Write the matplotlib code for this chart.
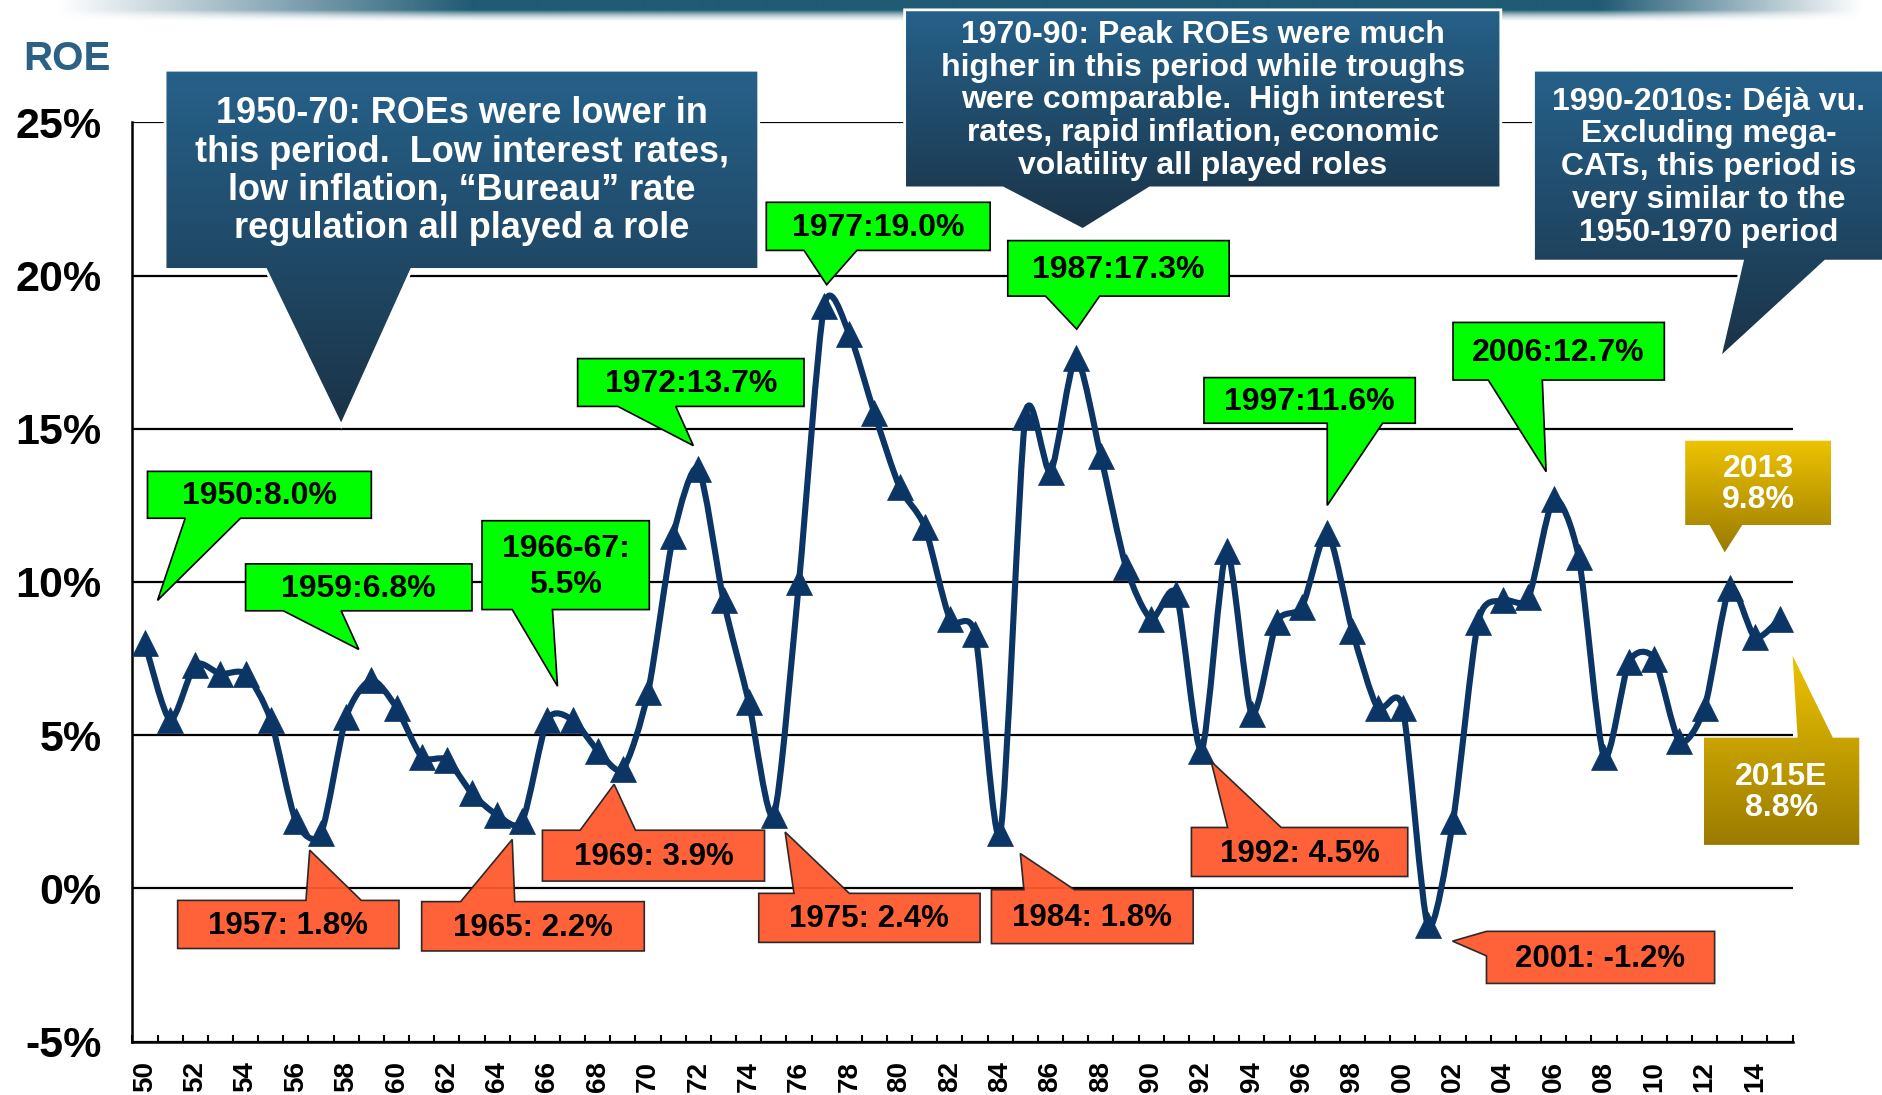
import matplotlib.pyplot as plt
import numpy as np
from matplotlib.path import Path
from matplotlib.patches import PathPatch, Polygon
from matplotlib.colors import to_rgb

plt.rcParams['font.family'] = ['Liberation Sans', 'DejaVu Sans']
plt.rcParams['font.weight'] = 'bold'

# P&C industry ROE by year (2015 is an estimate)
years = list(range(1950, 2016))
roe = [8.0, 5.5, 7.3, 7.0, 7.0, 5.5, 2.2, 1.8, 5.6, 6.8,
       5.9, 4.3, 4.2, 3.1, 2.4, 2.2, 5.5, 5.5, 4.5, 3.9,
       6.4, 11.5, 13.7, 9.4, 6.1, 2.4, 10.0, 19.0, 18.1, 15.5,
       13.1, 11.8, 8.8, 8.3, 1.8, 15.4, 13.6, 17.3, 14.1, 10.5,
       8.8, 9.6, 4.5, 11.0, 5.7, 8.7, 9.2, 11.6, 8.4, 5.9,
       5.9, -1.2, 2.2, 8.7, 9.4, 9.5, 12.7, 10.8, 4.3, 7.4,
       7.5, 4.8, 5.9, 9.8, 8.2, 8.8]
label_years = list(range(1950, 2015, 2))
year_labels = [f"{y % 100:02d}" for y in label_years]
y_ticks = [-5, 0, 5, 10, 15, 20, 25]
y_labels = [f"{v}%" for v in y_ticks]

LINE = '#0B3565'
GREEN = '#00FF00'
RED = '#FF5A2E'
BLUE_GRAD = ('#26618A', '#1A3347')
GOLD_GRAD = ('#EEC300', '#9A7B00')

# callouts: text, box (x0, x1, y0, y1), pointer side, base, tip
peaks = [
    ("1950:8.0%", (1950.1, 1959.0, 12.08, 13.61), 'bottom', (1951.6, 1953.8), (1950.5, 9.4)),
    ("1959:6.8%", (1954.0, 1963.0, 9.06, 10.59), 'bottom', (1955.5, 1957.8), (1958.5, 7.8)),
    ("1966-67:\n5.5%", (1963.4, 1970.05, 9.1, 12.0), 'bottom', (1964.6, 1966.2), (1966.4, 6.6)),
    ("1972:13.7%", (1967.2, 1976.2, 15.73, 17.29), 'bottom', (1968.8, 1971.1), (1971.8, 14.45)),
    ("1977:19.0%", (1974.7, 1983.6, 20.82, 22.39), 'bottom', (1976.2, 1978.3), (1977.1, 19.7)),
    ("1987:17.3%", (1984.3, 1993.1, 19.33, 21.14), 'bottom', (1985.8, 1987.95), (1987.04, 18.25)),
    ("1997:11.6%", (1992.1, 2000.5, 15.18, 16.67), 'bottom', (1997.0, 1999.2), (1997.0, 12.5)),
    ("2006:12.7%", (2002.0, 2010.4, 16.59, 18.47), 'bottom', (2003.4, 2005.55), (2005.7, 13.6)),
]
troughs = [
    ("1957: 1.8%", (1951.3, 1960.1, -1.96, -0.39), 'top', (1956.4, 1958.6), (1956.55, 1.25)),
    ("1965: 2.2%", (1961.0, 1969.85, -2.04, -0.43), 'top', (1962.55, 1964.7), (1964.6, 1.6)),
    ("1969: 3.9%", (1965.8, 1974.63, 0.24, 1.9), 'top', (1967.3, 1969.5), (1968.65, 3.4)),
    ("1975: 2.4%", (1974.4, 1983.2, -1.76, -0.16), 'top', (1975.8, 1978.0), (1975.45, 1.84)),
    ("1984: 1.8%", (1983.65, 1991.67, -1.8, -0.04), 'top', (1984.94, 1986.95), (1984.8, 1.14)),
    ("1992: 4.5%", (1991.6, 2000.2, 0.39, 1.99), 'top', (1993.04, 1995.17), (1992.38, 4.15)),
    ("2001: -1.2%", (2003.33, 2012.4, -3.1, -1.4), 'left', (-2.2, -1.4), (2001.98, -1.72)),
]
notes = [
    ("1950-70: ROEs were lower in\nthis period.  Low interest rates,\nlow inflation, \u201cBureau\u201d rate\nregulation all played a role",
     (1950.8, 1974.4, 20.2, 26.7), 'bottom', (1954.8, 1960.6), (1957.8, 15.1), 26),
    ("1970-90: Peak ROEs were much\nhigher in this period while troughs\nwere comparable.  High interest\nrates, rapid inflation, economic\nvolatility all played roles",
     (1980.2, 2003.9, 22.86, 28.67), 'bottom', (1984.1, 1989.95), (1987.28, 21.5), 23),
    ("1990-2010s: D\u00e9j\u00e0 vu.\nExcluding mega-\nCATs, this period is\nvery similar to the\n1950-1970 period",
     (2005.2, 2019.1, 20.47, 26.7), 'bottom', (2013.5, 2016.8), (2012.6, 17.3), 23),
]
recent = [
    ("2013\n9.8%", (2011.23, 2017.03, 11.86, 14.61), 'bottom', (2012.2, 2013.5), (2012.8, 10.97)),
    ("2015E\n8.8%", (2011.96, 2018.15, 1.42, 4.92), 'top', (2015.7, 2017.1), (2015.5, 7.6)),
]


def callout_verts(box, side, base, tip):
    x0, x1, y0, y1 = box
    b0, b1 = base
    tx, ty = tip
    if side == 'bottom':
        return [(x0, y1), (x1, y1), (x1, y0), (b1, y0), (tx, ty), (b0, y0), (x0, y0)]
    if side == 'top':
        return [(x0, y1), (b0, y1), (tx, ty), (b1, y1), (x1, y1), (x1, y0), (x0, y0)]
    # left
    return [(x0, y1), (x1, y1), (x1, y0), (x0, y0), (x0, b0), (tx, ty), (x0, b1)]


def callout(ax, text, box, side, base, tip, face=None, grad=None, edge='none',
            lw=1.2, color='black', size=23, ls=1.1, alpha=1.0):
    verts = callout_verts(box, side, base, tip)
    poly = Polygon(verts, closed=True, facecolor=face if face else 'none',
                   edgecolor=edge, linewidth=lw, zorder=6, clip_on=False,
                   alpha=alpha, joinstyle='miter')
    ax.add_patch(poly)
    if grad is not None:
        xs = [v[0] for v in verts]
        ys = [v[1] for v in verts]
        top = np.array(to_rgb(grad[0]))
        bot = np.array(to_rgb(grad[1]))
        t = np.linspace(0, 1, 256)[:, None]
        img = (top * (1 - t) + bot * t)[:, None, :]
        im = ax.imshow(img, extent=[min(xs), max(xs), min(ys), max(ys)],
                       origin='upper', aspect='auto', zorder=5.5,
                       interpolation='bilinear')
        im.set_clip_box(ax.figure.bbox)
        im.set_clip_path(poly)
    x0, x1, y0, y1 = box
    ax.text((x0 + x1) / 2, (y0 + y1) / 2 - 0.05, text, ha='center', va='center',
            fontsize=size, color=color, fontweight='bold', linespacing=ls,
            zorder=7, clip_on=False)


fig = plt.figure(figsize=(18.83, 10.95), dpi=100)

# faded banner along the top edge
bax = fig.add_axes([0, 1 - 22 / 1095, 1, 22 / 1095], zorder=0)
nx, ny = 600, 22
xx = np.linspace(0, 1, nx)
ax_fade = np.clip((xx - 0.03) / 0.22, 0, 1) * np.clip((0.99 - xx) / 0.14, 0, 1)
rows = np.linspace(0, 1, ny)
band = np.zeros((ny, nx, 4))
dark = np.array(to_rgb('#1F5B73'))
haze = np.array(to_rgb('#B9CDD8'))
for i, r in enumerate(rows):
    if r < 0.45:
        c, a = dark, 1.0
    else:
        k = (r - 0.45) / 0.55
        c, a = dark * (1 - k) + haze * k, 1.0 - k
    band[i, :, :3] = c
    band[i, :, 3] = a * ax_fade
bax.imshow(band, aspect='auto', interpolation='bilinear')
bax.axis('off')

ax = fig.add_axes([0.0703, 0.0487, 0.8817, 0.8396], zorder=1)
ax.set_facecolor('none')
ax.set_autoscale_on(False)
ax.set_xlim(1949.5, 2015.5)
ax.set_ylim(-5, 25)

# smoothed line (Bezier through each yearly point) plus triangle markers
pts = np.column_stack([np.array(years, float), np.array(roe, float)])
verts = [pts[0]]
codes = [Path.MOVETO]
n = len(pts)
k = 1 / 8
for i in range(n - 1):
    p0 = pts[i - 1] if i > 0 else pts[i]
    p1, p2 = pts[i], pts[i + 1]
    p3 = pts[i + 2] if i + 2 < n else pts[i + 1]
    verts += [p1 + (p2 - p0) * k, p2 - (p3 - p1) * k, p2]
    codes += [Path.CURVE4] * 3
ax.add_patch(PathPatch(Path(verts, codes), facecolor='none', edgecolor=LINE,
                       linewidth=4.4, zorder=3, capstyle='round', joinstyle='round'))
ax.plot(years, roe, linestyle='none', marker='^', markersize=19, color=LINE,
        markeredgewidth=0.5, zorder=4)

# axes styling
ax.set_yticks(y_ticks)
ax.set_yticklabels(y_labels, fontsize=31, fontweight='bold')
ax.tick_params(axis='y', length=0, pad=22)
ax.yaxis.grid(True, color='black', linewidth=1.6, zorder=1)
ax.set_axisbelow(True)
ax.set_xticks(label_years)
ax.set_xticklabels(year_labels, rotation=90, fontsize=20, fontweight='bold')
ax.set_xticks(np.arange(1949.5, 2016, 1), minor=True)
ax.tick_params(axis='x', which='major', length=0, pad=14)
ax.tick_params(axis='x', which='minor', direction='in', length=5, width=1.5)
for side in ('top', 'right'):
    ax.spines[side].set_visible(False)
for side in ('left', 'bottom'):
    ax.spines[side].set_linewidth(1.8)

fig.text(0.0357, 0.946, 'ROE', fontsize=29, fontweight='bold', color='#2A6184',
         ha='center', va='center')

for text, box, side, base, tip in peaks:
    callout(ax, text, box, side, base, tip, face=GREEN, edge='black', size=23,
            ls=1.25)
for text, box, side, base, tip in troughs:
    callout(ax, text, box, side, base, tip, face=RED, edge='#222222', size=22.5,
            alpha=0.95)
for text, box, side, base, tip, fs in notes:
    callout(ax, text, box, side, base, tip, grad=BLUE_GRAD, edge='white', lw=2,
            color='white', size=fs, ls=1.12)
for text, box, side, base, tip in recent:
    callout(ax, text, box, side, base, tip, grad=GOLD_GRAD, color='white',
            size=23, ls=1.05)

fig.savefig('out.png', dpi=100)
